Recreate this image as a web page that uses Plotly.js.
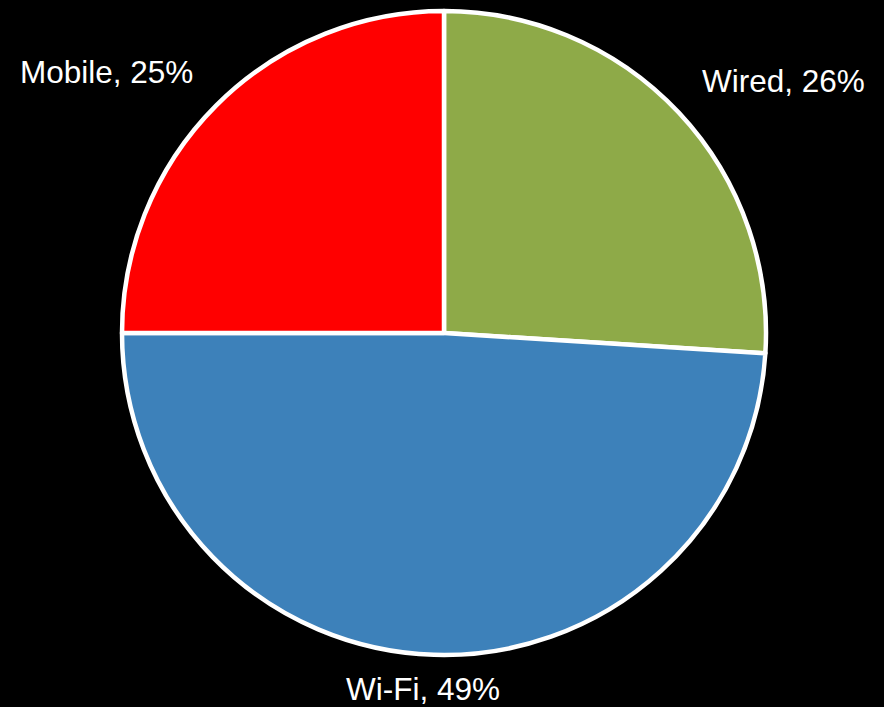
<!DOCTYPE html>
<html>
<head>
<meta charset="utf-8">
<script src="https://cdn.plot.ly/plotly-3.0.1.min.js"></script>
<style>
  html, body { margin: 0; padding: 0; background: #000; }
  #chart { width: 884px; height: 707px; }
</style>
</head>
<body>
<div id="chart"></div>
<script>
const categories = ['Wired', 'Wi-Fi', 'Mobile'];
const shares = [26, 49, 25];
const sliceColors = ['#8EAA48', '#3D81BA', '#FF0000'];

// label placement (paper coords) for each category, in the same order
const labelX = [0.886, 0.479, 0.121];
const labelY = [0.885, 0.026, 0.898];

const trace = {
  type: 'pie',
  labels: categories,
  values: shares,
  sort: false,
  direction: 'clockwise',
  rotation: 0,
  textinfo: 'none',
  hoverinfo: 'label+percent',
  marker: { colors: sliceColors, line: { color: '#FFFFFF', width: 4.5 } },
  domain: { x: [122 / 884, 766 / 884], y: [1 - 655 / 707, 1 - 11 / 707] },
  showlegend: false
};

const annotations = categories.map((c, i) => ({
  text: c + ', ' + shares[i] + '%',
  xref: 'paper', yref: 'paper',
  x: labelX[i], y: labelY[i],
  xanchor: 'center', yanchor: 'middle',
  showarrow: false,
  font: { family: 'Liberation Sans, Arial, sans-serif', size: 31.5, color: '#FFFFFF' }
}));

const layout = {
  width: 884, height: 707,
  margin: { l: 0, r: 0, t: 0, b: 0 },
  paper_bgcolor: '#000000',
  plot_bgcolor: '#000000',
  annotations: annotations,
  showlegend: false
};

Plotly.newPlot('chart', [trace], layout, { displayModeBar: false, staticPlot: true });
</script>
</body>
</html>
